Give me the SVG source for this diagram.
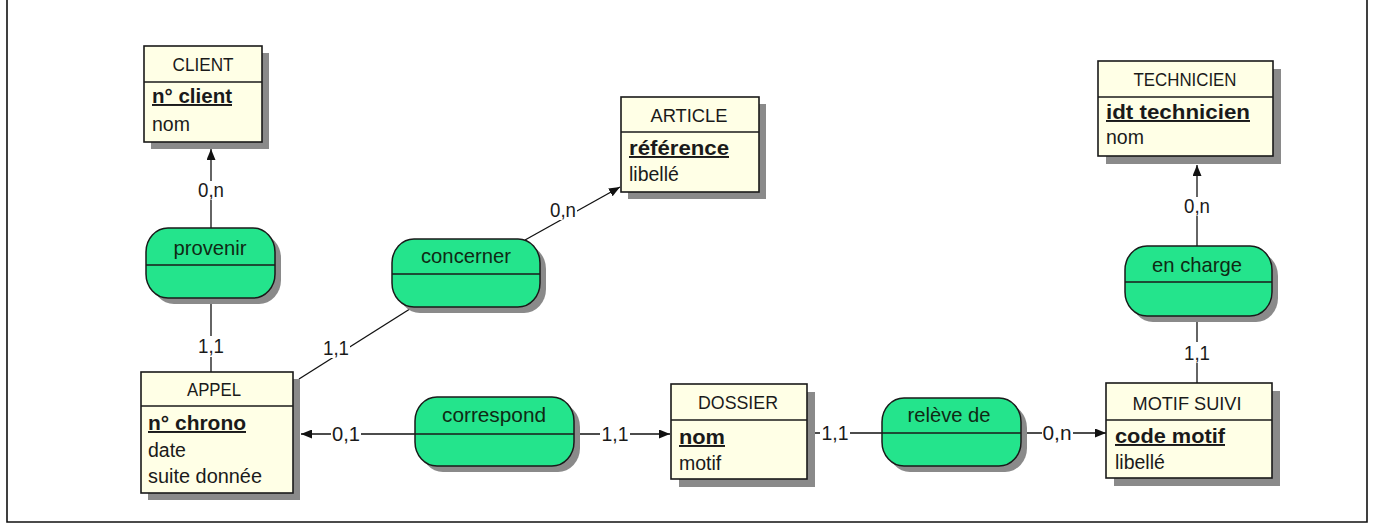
<svg xmlns="http://www.w3.org/2000/svg" width="1374" height="525" viewBox="0 0 1374 525">
<style>
.frame{fill:none;stroke:#111;stroke-width:1.6}
.ent{fill:#FFFFE6;stroke:#1a1a1a;stroke-width:1.6}
.sh{fill:#8a8a8a}
.div{stroke:#1a1a1a;stroke-width:1.4}
.asso{fill:#24E48C;stroke:#1a1a1a;stroke-width:1.5}
.t{font-family:"Liberation Sans",Arial,sans-serif;fill:#1a1a1a}
.title{font-size:19px;text-anchor:middle}
.attr{font-size:19.5px}
.key{font-size:19.5px;font-weight:bold;text-decoration:underline}
.aname{font-size:21px;text-anchor:middle;fill:#0f2a14}
.card{font-size:19.5px;text-anchor:middle}
.bg{fill:#fff}
.ln{stroke:#111;stroke-width:1.3;fill:none}
</style>
<defs>
<marker id="arr" markerWidth="11" markerHeight="9" refX="11" refY="4.5" orient="auto" markerUnits="userSpaceOnUse">
<path d="M0,0 L11,4.5 L0,9 z" fill="#111"/>
</marker>
</defs>
<rect x="0" y="0" width="1374" height="525" fill="#fff"/>
<path class="frame" d="M7,0 V522 H1367 V0"/>

<g id="connectors">
<line class="ln" x1="211" y1="228" x2="211" y2="149" marker-end="url(#arr)"/>
<line class="ln" x1="211" y1="298" x2="211" y2="372"/>
<line class="ln" x1="525" y1="240" x2="620" y2="187" marker-end="url(#arr)"/>
<line class="ln" x1="413" y1="307" x2="299" y2="379"/>
<line class="ln" x1="415" y1="434" x2="301" y2="434" marker-end="url(#arr)"/>
<line class="ln" x1="574" y1="434" x2="670" y2="434" marker-end="url(#arr)"/>
<line class="ln" x1="882" y1="433" x2="807" y2="433"/>
<line class="ln" x1="1021" y1="433" x2="1106" y2="433" marker-end="url(#arr)"/>
<line class="ln" x1="1197" y1="246" x2="1197" y2="165" marker-end="url(#arr)"/>
<line class="ln" x1="1197" y1="316" x2="1197" y2="383"/>
<rect class="bg" x="197" y="181" width="28" height="19"/>
<text class="t card" x="211" y="197" textLength="26" lengthAdjust="spacingAndGlyphs">0,n</text>
<rect class="bg" x="197" y="336" width="28" height="21"/>
<text class="t card" x="211" y="353" textLength="26" lengthAdjust="spacingAndGlyphs">1,1</text>
<rect class="bg" x="549" y="201" width="28" height="19"/>
<text class="t card" x="563" y="217" textLength="26" lengthAdjust="spacingAndGlyphs">0,n</text>
<rect class="bg" x="322" y="339" width="28" height="19"/>
<text class="t card" x="336" y="355" textLength="26" lengthAdjust="spacingAndGlyphs">1,1</text>
<rect class="bg" x="331" y="425" width="30" height="19"/>
<text class="t card" x="346" y="441" textLength="28" lengthAdjust="spacingAndGlyphs">0,1</text>
<rect class="bg" x="600" y="425" width="30" height="19"/>
<text class="t card" x="615" y="441" textLength="27" lengthAdjust="spacingAndGlyphs">1,1</text>
<rect class="bg" x="820" y="424" width="30" height="19"/>
<text class="t card" x="835" y="440" textLength="27" lengthAdjust="spacingAndGlyphs">1,1</text>
<rect class="bg" x="1042" y="424" width="31" height="19"/>
<text class="t card" x="1057" y="440" textLength="29" lengthAdjust="spacingAndGlyphs">0,n</text>
<rect class="bg" x="1183" y="197" width="28" height="19"/>
<text class="t card" x="1197" y="213" textLength="26" lengthAdjust="spacingAndGlyphs">0,n</text>
<rect class="bg" x="1183" y="342" width="28" height="21"/>
<text class="t card" x="1197" y="360" textLength="26" lengthAdjust="spacingAndGlyphs">1,1</text>
</g>

<g id="client">
<rect class="sh" x="151" y="53" width="118" height="96"/>
<rect class="ent" x="144" y="46" width="118" height="96"/>
<line class="div" x1="144" y1="82" x2="262" y2="82"/>
<text class="t title" x="203" y="71" textLength="61" lengthAdjust="spacingAndGlyphs">CLIENT</text>
<text class="t key" x="152" y="103" textLength="80" lengthAdjust="spacingAndGlyphs">n° client</text>
<text class="t attr" x="152" y="131">nom</text>
</g>

<g id="article">
<rect class="sh" x="628" y="104" width="138" height="95"/>
<rect class="ent" x="621" y="97" width="138" height="95"/>
<line class="div" x1="621" y1="132" x2="759" y2="132"/>
<text class="t title" x="689" y="122" textLength="77" lengthAdjust="spacingAndGlyphs">ARTICLE</text>
<text class="t key" x="629" y="155" textLength="100" lengthAdjust="spacingAndGlyphs">référence</text>
<text class="t attr" x="629" y="181">libellé</text>
</g>

<g id="technicien">
<rect class="sh" x="1106" y="69" width="175" height="95"/>
<rect class="ent" x="1098" y="61" width="175" height="95"/>
<line class="div" x1="1098" y1="97" x2="1273" y2="97"/>
<text class="t title" x="1185" y="86" textLength="103" lengthAdjust="spacingAndGlyphs">TECHNICIEN</text>
<text class="t key" x="1106" y="119" textLength="144" lengthAdjust="spacingAndGlyphs">idt technicien</text>
<text class="t attr" x="1106" y="144">nom</text>
</g>

<g id="appel">
<rect class="sh" x="148" y="379" width="152" height="121"/>
<rect class="ent" x="141" y="372" width="152" height="121"/>
<line class="div" x1="141" y1="406" x2="293" y2="406"/>
<text class="t title" x="214" y="396" textLength="54" lengthAdjust="spacingAndGlyphs">APPEL</text>
<text class="t key" x="148" y="430" textLength="98" lengthAdjust="spacingAndGlyphs">n° chrono</text>
<text class="t attr" x="148" y="457">date</text>
<text class="t attr" x="148" y="483" textLength="114" lengthAdjust="spacingAndGlyphs">suite donnée</text>
</g>

<g id="dossier">
<rect class="sh" x="679" y="392" width="136" height="95"/>
<rect class="ent" x="671" y="384" width="136" height="95"/>
<line class="div" x1="671" y1="420" x2="807" y2="420"/>
<text class="t title" x="738" y="409" textLength="80" lengthAdjust="spacingAndGlyphs">DOSSIER</text>
<text class="t key" x="679" y="444" textLength="46" lengthAdjust="spacingAndGlyphs">nom</text>
<text class="t attr" x="679" y="470">motif</text>
</g>

<g id="motif_suivi">
<rect class="sh" x="1114" y="391" width="166" height="95"/>
<rect class="ent" x="1106" y="383" width="166" height="95"/>
<line class="div" x1="1106" y1="420" x2="1272" y2="420"/>
<text class="t title" x="1187" y="410" textLength="109" lengthAdjust="spacingAndGlyphs">MOTIF SUIVI</text>
<text class="t key" x="1115" y="443" textLength="110" lengthAdjust="spacingAndGlyphs">code motif</text>
<text class="t attr" x="1115" y="469">libellé</text>
</g>

<g id="provenir">
<rect class="sh" x="152" y="234" width="129" height="70" rx="22" ry="24"/>
<rect class="asso" x="146" y="228" width="129" height="70" rx="22" ry="24"/>
<line class="div" x1="146" y1="265" x2="275" y2="265"/>
<text class="t aname" x="210" y="255" textLength="73" lengthAdjust="spacingAndGlyphs">provenir</text>
</g>

<g id="concerner">
<rect class="sh" x="398" y="245" width="148" height="68" rx="22" ry="24"/>
<rect class="asso" x="392" y="239" width="148" height="68" rx="22" ry="24"/>
<line class="div" x1="392" y1="274" x2="540" y2="274"/>
<text class="t aname" x="466" y="263" textLength="90" lengthAdjust="spacingAndGlyphs">concerner</text>
</g>

<g id="correspond">
<rect class="sh" x="421" y="403" width="159" height="69" rx="22" ry="24"/>
<rect class="asso" x="415" y="397" width="159" height="69" rx="22" ry="24"/>
<line class="div" x1="415" y1="434" x2="574" y2="434"/>
<text class="t aname" x="494" y="422" textLength="104" lengthAdjust="spacingAndGlyphs">correspond</text>
</g>

<g id="releve_de">
<rect class="sh" x="888" y="404" width="139" height="68" rx="22" ry="24"/>
<rect class="asso" x="882" y="398" width="139" height="68" rx="22" ry="24"/>
<line class="div" x1="882" y1="433" x2="1021" y2="433"/>
<text class="t aname" x="949" y="422" textLength="83" lengthAdjust="spacingAndGlyphs">relève de</text>
</g>

<g id="en_charge">
<rect class="sh" x="1131" y="252" width="147" height="70" rx="22" ry="24"/>
<rect class="asso" x="1125" y="246" width="147" height="70" rx="22" ry="24"/>
<line class="div" x1="1125" y1="282" x2="1272" y2="282"/>
<text class="t aname" x="1197" y="272" textLength="90" lengthAdjust="spacingAndGlyphs">en charge</text>
</g>
</svg>
